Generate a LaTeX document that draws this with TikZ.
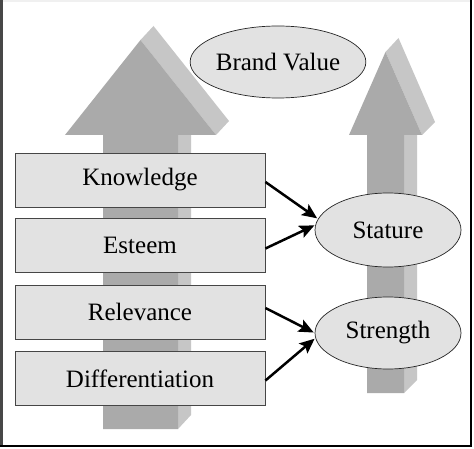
\documentclass[tikz,border=0pt]{standalone}
\usepackage{fontspec}
\setmainfont{Liberation Serif}
\usetikzlibrary{arrows.meta,calc,shapes.geometric}
\definecolor{arrfront}{RGB}{170,170,170}
\definecolor{arrside}{RGB}{198,198,198}
\definecolor{boxfill}{RGB}{226,226,226}
\definecolor{boxline}{RGB}{70,70,70}
\tikzset{
  front/.style={fill=arrfront,draw=none},
  side/.style={fill=arrside,draw=none},
  factor/.style={draw=boxline,line width=0.9pt,fill=boxfill,minimum width=250pt,minimum height=54pt,inner sep=0pt,font=\fontsize{25}{28}\selectfont},
  oval/.style={ellipse,draw=black!85,line width=0.7pt,fill=boxfill,inner sep=0pt,font=\fontsize{25}{28}\selectfont},
  link/.style={line width=2.5pt,-{Stealth[length=15pt,width=13pt,inset=3pt]},shorten >=1pt}
}
\begin{document}
\begin{tikzpicture}[x=1pt,y=-1pt]
\useasboundingbox (0,0) rectangle (474,449);
\fill[white] (0,0) rectangle (474,449);
% frame
\draw[line width=2pt,gray!12] (0,1) -- (471,1);
\draw[line width=3pt,black!72] (1.5,0) -- (1.5,447);
\draw[line width=2pt,black] (471,0) -- (471,447);
\draw[line width=2pt,black] (0,446) -- (472,446);
% left big arrow
\fill[side] (178,135) -- (178,429) -- (191,415) -- (191,121) -- cycle;
\fill[side] (140.5,40) -- (216,135) -- (229,121) -- (153.5,26) -- cycle;
\fill[front] (103,429) -- (103,135) -- (65,135) -- (140.5,40) -- (216,135) -- (178,135) -- (178,429) -- cycle;
% right arrow
\fill[side] (404,135) -- (404,393) -- (417,380) -- (417,122) -- cycle;
\fill[side] (385.5,52) -- (422,135) -- (435,122) -- (398.5,38) -- cycle;
\fill[front] (367,393) -- (367,135) -- (349,135) -- (385.5,52) -- (422,135) -- (404,135) -- (404,393) -- cycle;
% factor boxes
\node[factor] (k) at (140,180) {Knowledge};
\node[factor] (e) at (140,245.5) {Esteem};
\node[factor] (r) at (140,312) {Relevance};
\node[factor] (d) at (140,378.5) {Differentiation};
% ellipses
\node[oval,minimum width=152pt,minimum height=72pt] (bv) at (278,62) {Brand Value};
\node[oval,minimum width=146pt,minimum height=74pt] (st) at (388,230) {Stature};
\node[oval,minimum width=146pt,minimum height=72pt] (sg) at (388,333) {Strength};
% connectors
\draw[link] ([yshift=-2pt]k.east) -- (st.171);
\draw[link] ([yshift=-3pt]e.east) -- (st.176);
\draw[link] ([yshift=4pt]r.east) -- (sg.180);
\draw[link] ([yshift=-2pt]d.east) -- (sg.184);
\end{tikzpicture}
\end{document}
